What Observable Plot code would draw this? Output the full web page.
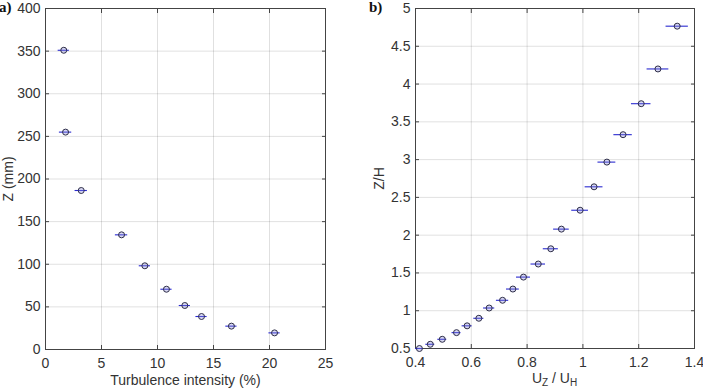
<!DOCTYPE html>
<html>
<head>
<meta charset="utf-8">
<script src="https://cdn.jsdelivr.net/npm/d3@7"></script>
<script src="https://cdn.jsdelivr.net/npm/@observablehq/plot@0.6"></script>
<style>
  html, body { margin: 0; padding: 0; background: #fff; }
  #wrap { position: relative; width: 703px; height: 390px; overflow: hidden; }
  .panel { position: absolute; top: 0; }
  .tag { position: absolute; top: 0; line-height: 1; font-family: "Liberation Serif", "Times New Roman", serif; font-weight: bold; font-size: 15px; color: #111; }
</style>
</head>
<body>
<div id="wrap"></div>
<script>
// (a) Turbulence intensity profile: height above floor (mm) vs intensity (%)
const tiIntensity = [1.63, 1.79, 3.19, 6.79, 8.87, 10.8, 12.44, 13.93, 16.6, 20.45];
const tiHeight    = [351, 255, 186.5, 134.5, 98.2, 70.7, 51.6, 38.7, 27.4, 19.5];
const tiError     = [0.5, 0.55, 0.55, 0.55, 0.5, 0.5, 0.5, 0.5, 0.5, 0.5];
const tiXTicks    = [0, 5, 10, 15, 20, 25];
const tiYTicks    = [0, 50, 100, 150, 200, 250, 300, 350, 400];

// (b) Normalised mean velocity profile: Z/H vs U_Z/U_H
const uRatio = [0.414, 0.453, 0.496, 0.547, 0.585, 0.627, 0.664, 0.712, 0.749, 0.787,
                0.840, 0.885, 0.923, 0.990, 1.040, 1.086, 1.144, 1.209, 1.269, 1.338];
const zRatio = [0.50, 0.556, 0.622, 0.71, 0.80, 0.90, 1.036, 1.138, 1.287, 1.445,
                1.618, 1.82, 2.08, 2.33, 2.64, 2.967, 3.33, 3.74, 4.20, 4.766];
const uError = [0.014, 0.016, 0.016, 0.016, 0.018, 0.018, 0.020, 0.022, 0.023, 0.025,
                0.026, 0.027, 0.028, 0.030, 0.032, 0.032, 0.033, 0.035, 0.039, 0.040];
const uXTicks = [0.4, 0.6, 0.8, 1.0, 1.2, 1.4];
const uYTicks = [0.5, 1, 1.5, 2, 2.5, 3, 3.5, 4, 4.5, 5];

const AXIS = "#444";
const TEXT = "#333";
const BAR = "#2a2ad0";

function panel({xs, ys, es, xDomain, yDomain, xTicks, yTicks, xLabel, yLabel,
                width, height, margins, xFormat, yFormat, yLabelOffset}) {
  const rows = xs.map((x, i) => ({x, y: ys[i], e: es[i]}));
  return Plot.plot({
    width, height,
    marginLeft: margins[0], marginRight: margins[1], marginTop: margins[2], marginBottom: margins[3],
    style: {fontFamily: '"Liberation Sans", Arial, sans-serif', fontSize: "14px", color: TEXT, background: "transparent"},
    x: {domain: xDomain},
    y: {domain: yDomain},
    marks: [
      Plot.gridX(xTicks, {stroke: "#000", strokeOpacity: 0.12}),
      Plot.gridY(yTicks, {stroke: "#000", strokeOpacity: 0.12}),
      Plot.frame({stroke: AXIS}),
      Plot.axisX(xTicks, {anchor: "bottom", tickSize: -4, tickPadding: 13, stroke: AXIS, fill: TEXT,
        tickFormat: xFormat, label: xLabel, labelAnchor: "center", labelOffset: 35, labelArrow: "none"}),
      Plot.axisX(xTicks, {anchor: "top", tickSize: -4, stroke: AXIS, fill: "none", label: null}),
      Plot.axisY(yTicks, {anchor: "left", tickSize: -4, tickPadding: 9, stroke: AXIS, fill: TEXT,
        tickFormat: yFormat, label: yLabel, labelAnchor: "center", labelOffset: yLabelOffset, labelArrow: "none"}),
      Plot.axisY(yTicks, {anchor: "right", tickSize: -4, stroke: AXIS, fill: "none", label: null}),
      Plot.ruleY(rows, {y: "y", x1: d => d.x - d.e, x2: d => d.x + d.e, stroke: BAR, strokeWidth: 1.1}),
      Plot.dot(rows, {x: "x", y: "y", r: 3, stroke: "#2e2e48", strokeWidth: 1, fill: "#8c8cd8", fillOpacity: 0.35})
    ]
  });
}

const wrap = document.getElementById("wrap");

const left = panel({
  xs: tiIntensity, ys: tiHeight, es: tiError,
  xDomain: [0, 25], yDomain: [0, 400], xTicks: tiXTicks, yTicks: tiYTicks,
  xLabel: "Turbulence intensity (%)", yLabel: "Z (mm)",
  width: 350, height: 390, margins: [45, 25, 8, 41],
  xFormat: d3.format("d"), yFormat: d3.format("d"), yLabelOffset: 42
});
left.classList.add("panel");
left.style.left = "0px";
wrap.appendChild(left);

const right = panel({
  xs: uRatio, ys: zRatio, es: uError,
  xDomain: [0.4, 1.4], yDomain: [0.5, 5], xTicks: uXTicks, yTicks: uYTicks,
  xLabel: null, yLabel: "Z/H",
  width: 353, height: 390, margins: [65, 9, 8, 42],
  xFormat: d => String(+d.toFixed(1)), yFormat: d => String(+d.toFixed(1)), yLabelOffset: 41
});
right.classList.add("panel");
right.style.left = "350px";
wrap.appendChild(right);

// x-axis title with subscripts for panel (b)
const title = d3.select(right).append("text")
  .attr("x", 65 + (353 - 65 - 9) / 2)
  .attr("y", 383)
  .attr("text-anchor", "middle")
  .attr("fill", TEXT)
  .style("font-size", "14px");
title.append("tspan").text("U");
title.append("tspan").attr("dy", 3).style("font-size", "10px").text("Z");
title.append("tspan").attr("dy", -3).text(" / U");
title.append("tspan").attr("dy", 3).style("font-size", "10px").text("H");

// panel tags
for (const [txt, x] of [["a)", -1], ["b)", 369]]) {
  const s = document.createElement("span");
  s.className = "tag";
  s.textContent = txt;
  s.style.left = x + "px";
  wrap.appendChild(s);
}
</script>
</body>
</html>
